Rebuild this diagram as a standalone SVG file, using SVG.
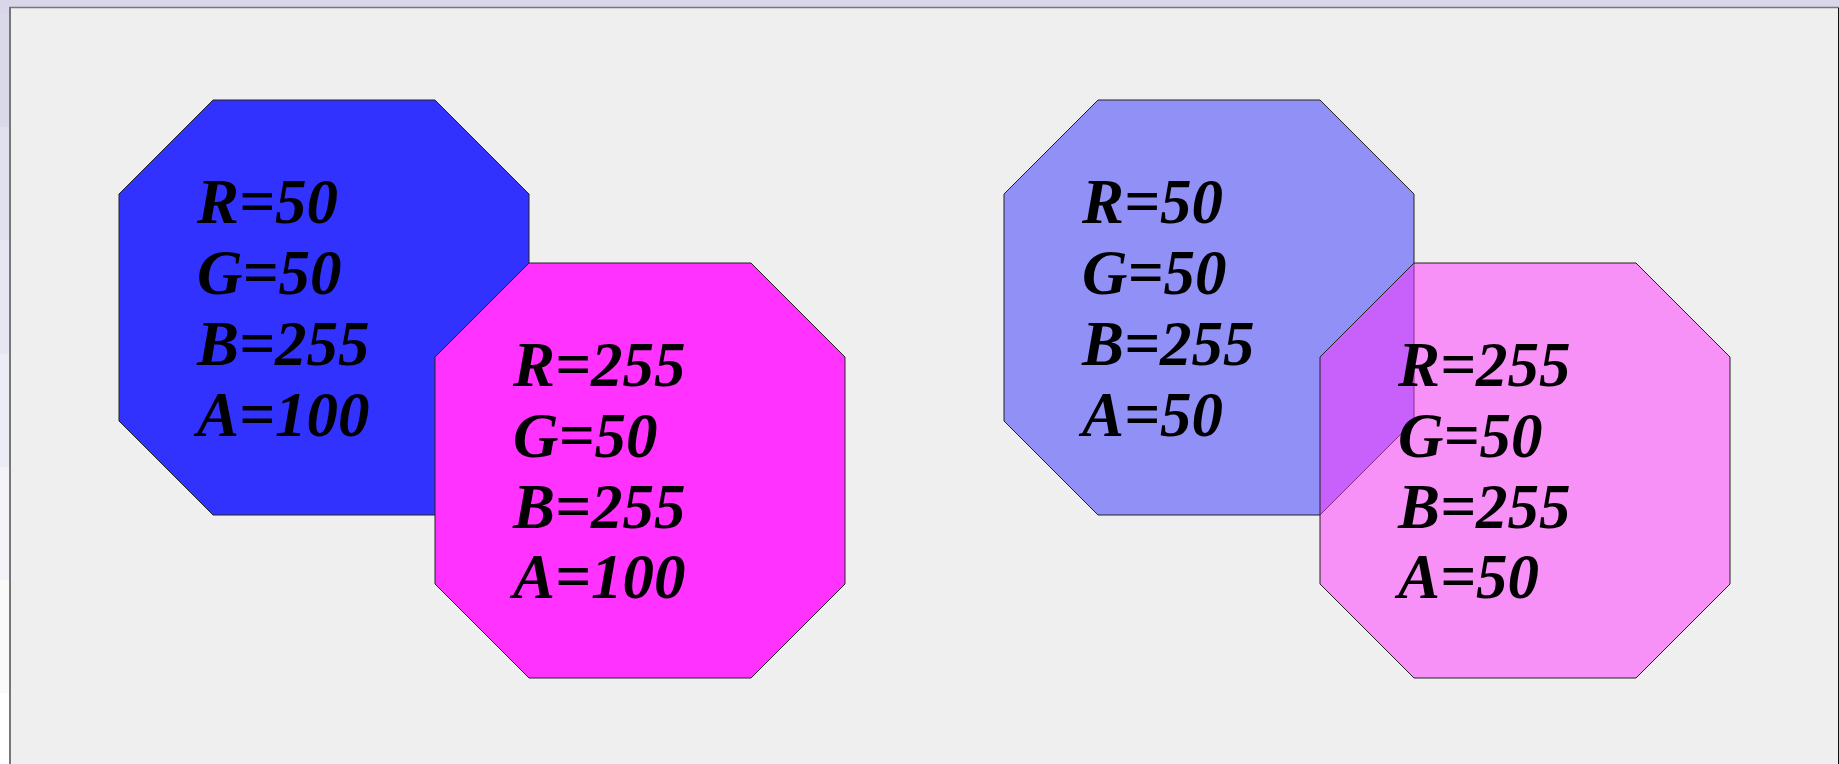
<svg xmlns="http://www.w3.org/2000/svg" width="1839" height="764" viewBox="0 0 1839 764">
<style>
.oct{stroke:#222;stroke-width:1}
.lbl{font-family:"Liberation Serif","Times New Roman",serif;font-weight:bold;font-style:italic;font-size:63px;fill:#000}
</style>
<defs>
<polygon id="octShape" points="94,0 316,0 410,94 410,321 316,415 94,415 0,321 0,94"/>
</defs>
<g id="background">
<rect x="0" y="0" width="1839" height="764" fill="#ffffff"/>
<rect x="0" y="0" width="1839" height="14" fill="#d8d6e8"/>
<rect x="0" y="14" width="9" height="113" fill="#dad9ea"/>
<rect x="0" y="127" width="9" height="113" fill="#e0e0ee"/>
<rect x="0" y="240" width="9" height="114" fill="#e6e6f2"/>
<rect x="0" y="354" width="9" height="113" fill="#ececf5"/>
<rect x="0" y="467" width="9" height="113" fill="#f3f3f9"/>
<rect x="0" y="580" width="9" height="113" fill="#fafafa"/>
<rect x="9" y="7" width="1830" height="757" fill="#efefef"/>
<line x1="10" y1="7" x2="10" y2="764" stroke="#777" stroke-width="2"/>
<line x1="9" y1="7.5" x2="1839" y2="7.5" stroke="#777" stroke-width="1.5"/>
<line x1="1838.5" y1="8" x2="1838.5" y2="764" stroke="#111" stroke-width="1"/>
</g>
<g id="connectors"></g>
<g id="blue-opaque">
<use href="#octShape" class="oct" transform="translate(119,100)" fill="#3232ff"/>
<text class="lbl" x="197" y="223">R=50</text>
<text class="lbl" x="197" y="294">G=50</text>
<text class="lbl" x="197" y="365">B=255</text>
<text class="lbl" x="197" y="436">A=100</text>
</g>
<g id="magenta-opaque">
<use href="#octShape" class="oct" transform="translate(435,263)" fill="#ff32ff"/>
<text class="lbl" x="513" y="386">R=255</text>
<text class="lbl" x="513" y="457">G=50</text>
<text class="lbl" x="513" y="528">B=255</text>
<text class="lbl" x="513" y="598">A=100</text>
</g>
<g id="blue-translucent">
<use href="#octShape" class="oct" transform="translate(1004,100)" fill="#3232ff" fill-opacity="0.5"/>
<text class="lbl" x="1082" y="223">R=50</text>
<text class="lbl" x="1082" y="294">G=50</text>
<text class="lbl" x="1082" y="365">B=255</text>
<text class="lbl" x="1082" y="436">A=50</text>
</g>
<g id="magenta-translucent">
<use href="#octShape" class="oct" transform="translate(1320,263)" fill="#ff32ff" fill-opacity="0.5"/>
<text class="lbl" x="1398" y="386">R=255</text>
<text class="lbl" x="1398" y="457">G=50</text>
<text class="lbl" x="1398" y="528">B=255</text>
<text class="lbl" x="1398" y="598">A=50</text>
</g>
</svg>
